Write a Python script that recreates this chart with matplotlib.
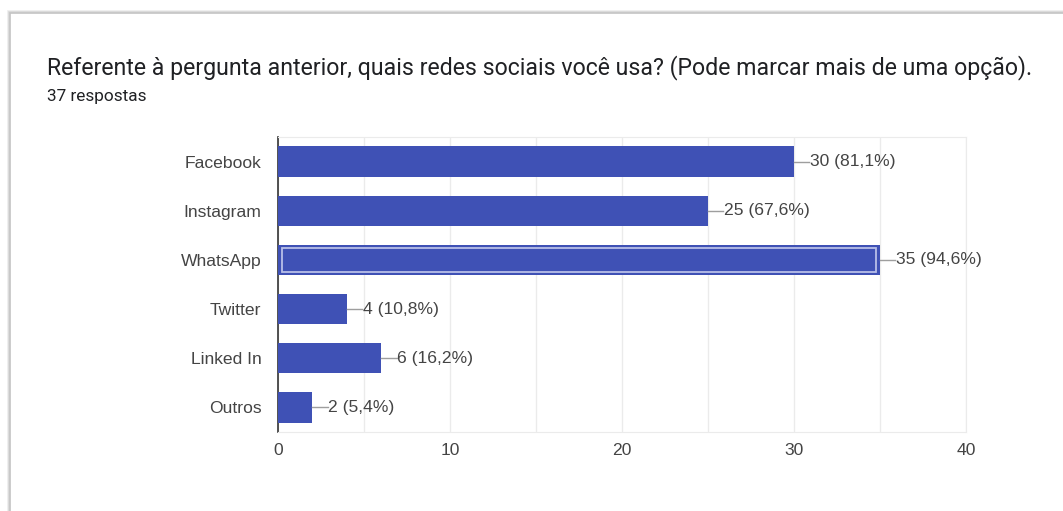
import matplotlib

matplotlib.use("Agg")
import matplotlib.pyplot as plt
from matplotlib.patches import Rectangle

# ==========================================
# Data
# ==========================================
TITLE = "Referente à pergunta anterior, quais redes sociais você usa? (Pode marcar mais de uma opção)."
SUBTITLE = "37 respostas"
categories = ["Facebook", "Instagram", "WhatsApp", "Twitter", "Linked In", "Outros"]
counts = [30, 25, 35, 4, 6, 2]
labels = ["30 (81,1%)", "25 (67,6%)", "35 (94,6%)", "4 (10,8%)", "6 (16,2%)", "2 (5,4%)"]
highlighted = "WhatsApp"
xticks = [0, 10, 20, 30, 40]

BAR_COLOR = "#3f51b5"
TEXT_COLOR = "#444444"
LABEL_SIZE = 12.6

W, H = 1063, 511
fig = plt.figure(figsize=(W / 100, H / 100), dpi=100)
fig.patch.set_facecolor("white")

# card outline (screenshot of the Google Forms card)
for off, c in [(3, "#ececec"), (2, "#d8d8d8"), (1, "#c4c4c4")]:
    fig.patches.append(Rectangle(((10 - off + 1) / W, -0.1), 2, (H - 13 + off - 1) / H + 0.1,
                                 transform=fig.transFigure, facecolor="none",
                                 edgecolor=c, lw=1.2, zorder=0))
fig.patches.append(Rectangle((11 / W, -0.1), 2, (H - 14) / H + 0.1, transform=fig.transFigure,
                             facecolor="white", edgecolor="none", zorder=0.5))

fig.text(47 / W, 1 - 68 / H, TITLE, fontsize=16.7, color="#202124", family="Roboto",
         ha="left", va="center")
fig.text(47 / W, 1 - 97 / H, SUBTITLE, fontsize=12.4, color="#202124", family="Roboto",
         ha="left", va="center")

ax = fig.add_axes([278 / W, 1 - 432 / H, (966 - 278) / W, (432 - 137) / H])
ax.set_facecolor("none")
ax.set_zorder(2)

y = list(range(len(categories)))
ax.barh(y, counts, height=0.62, color=BAR_COLOR, zorder=3)

# hover outline on the highlighted bar
i = categories.index(highlighted)
ax.barh(y[i], counts[i] - 0.45, left=0.22, height=0.48, color="none",
        edgecolor="#b8bfe8", lw=1.3, zorder=4)

for yi, v, lab in zip(y, counts, labels):
    ax.plot([v, v + 0.9], [yi, yi], color="#9e9e9e", lw=1, zorder=3)
    ax.text(v + 0.92, yi, lab, ha="left", va="center", fontsize=LABEL_SIZE,
            color=TEXT_COLOR, family="Liberation Sans")

ax.set_xlim(0, 40)
ax.set_ylim(len(categories) - 0.5, -0.5)
ax.set_yticks(y)
ax.set_yticklabels(categories)
ax.set_xticks(xticks)
ax.set_xticks(range(0, 41, 5), minor=True)
ax.grid(True, axis="x", which="both", color="#ebebeb", lw=1, zorder=0)
ax.tick_params(axis="both", which="both", length=0, labelsize=LABEL_SIZE, colors=TEXT_COLOR)
ax.tick_params(axis="y", pad=12)
ax.tick_params(axis="x", pad=8)
for t in ax.get_xticklabels() + ax.get_yticklabels():
    t.set_family("Liberation Sans")

for side in ["top", "right", "bottom"]:
    ax.spines[side].set_color("#ebebeb")
ax.spines["left"].set_color("#333333")
ax.spines["left"].set_linewidth(1.2)

fig.savefig("out.png", dpi=100)
